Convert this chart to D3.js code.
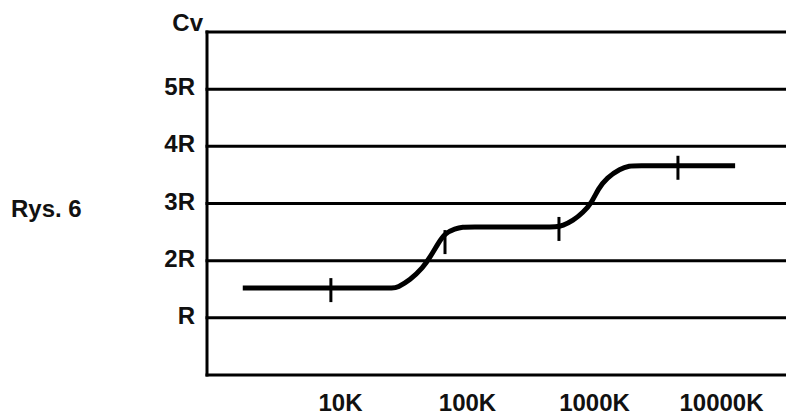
<!DOCTYPE html>
<html>
<head>
<meta charset="utf-8">
<script src="https://cdn.jsdelivr.net/npm/d3@7"></script>
<style>
  body { margin: 0; background: #fff; }
  text { font-family: "Liberation Sans", Arial, sans-serif; font-weight: bold; fill: #111; }
</style>
</head>
<body>
<svg id="chart" width="786" height="416"></svg>
<script>
// grid levels (multiples of R) and their labels
var yLevels = [1, 2, 3, 4, 5]
var yLabels = ['R', '2R', '3R', '4R', '5R']

// temperature ticks
var xTicks = [1e4, 1e5, 1e6, 1e7]
var xLabels = ['10K', '100K', '1000K', '10000K']

// Cv(T) curve
var curveT = [1700, 1800, 8400, 20000, 26000, 28000, 35300, 44700, 50700, 58600, 66500,
  79800, 92000, 105000, 200000, 400000, 500000, 560000, 678000, 811000, 955000,
  1070000, 1250000, 1590000, 1900000, 2100000, 4540000, 12700000, 12800000]
var curveCv = [1.52, 1.52, 1.52, 1.52, 1.52, 1.53, 1.66, 1.88, 2.06, 2.30, 2.48,
  2.56, 2.59, 2.59, 2.59, 2.59, 2.59, 2.61, 2.70, 2.84, 3.02,
  3.26, 3.45, 3.61, 3.66, 3.66, 3.66, 3.66, 3.66]

// small vertical marks on the curve
var markT = [8400, 66500, 525000, 4540000]
var markCv = [1.52, 2.36, 2.59, 3.66]

var width = 786, height = 416
var svg = d3.select('#chart')

var x = d3.scaleLog().domain([1e4, 1e7]).range([340.5, 721.5])
var y = d3.scaleLinear().domain([0, 6]).range([375, 32])
var axisX = 207

// horizontal lines (bottom, levels, top)
svg.append('g')
  .selectAll('line')
  .data([0].concat(yLevels).concat([6]))
  .enter().append('line')
  .attr('x1', axisX - 1.5)
  .attr('x2', width)
  .attr('y1', function (d) { return y(d) })
  .attr('y2', function (d) { return y(d) })
  .attr('stroke', '#000')
  .attr('stroke-width', 3)

// vertical axis
svg.append('line')
  .attr('x1', axisX).attr('x2', axisX)
  .attr('y1', y(6) - 1.5).attr('y2', y(0) + 1.5)
  .attr('stroke', '#000')
  .attr('stroke-width', 3)

// y labels
svg.append('g')
  .selectAll('text')
  .data(yLevels)
  .enter().append('text')
  .attr('x', 195)
  .attr('y', function (d) { return y(d) + 6 })
  .attr('text-anchor', 'end')
  .attr('font-size', 24)
  .text(function (d, i) { return yLabels[i] })

svg.append('text')
  .attr('x', 203)
  .attr('y', y(6) - 1)
  .attr('text-anchor', 'end')
  .attr('font-size', 24)
  .text('Cv')

// x labels
svg.append('g')
  .selectAll('text')
  .data(xTicks)
  .enter().append('text')
  .attr('x', function (d) { return x(d) })
  .attr('y', 411)
  .attr('text-anchor', 'middle')
  .attr('font-size', 24)
  .text(function (d, i) { return xLabels[i] })

// figure label
svg.append('text')
  .attr('x', 11)
  .attr('y', 217)
  .attr('font-size', 24)
  .text('Rys. 6')

// curve
var line = d3.line()
  .x(function (d) { return x(d[0]) })
  .y(function (d) { return y(d[1]) })
  .curve(d3.curveBasis)

svg.append('path')
  .datum(d3.zip(curveT, curveCv))
  .attr('d', line)
  .attr('fill', 'none')
  .attr('stroke', '#000')
  .attr('stroke-width', 5)

// marks
svg.append('g')
  .selectAll('line')
  .data(d3.zip(markT, markCv))
  .enter().append('line')
  .attr('x1', function (d) { return x(d[0]) })
  .attr('x2', function (d) { return x(d[0]) })
  .attr('y1', function (d) { return y(d[1]) - 10 })
  .attr('y2', function (d) { return y(d[1]) + 14 })
  .attr('stroke', '#000')
  .attr('stroke-width', 3)
</script>
</body>
</html>
